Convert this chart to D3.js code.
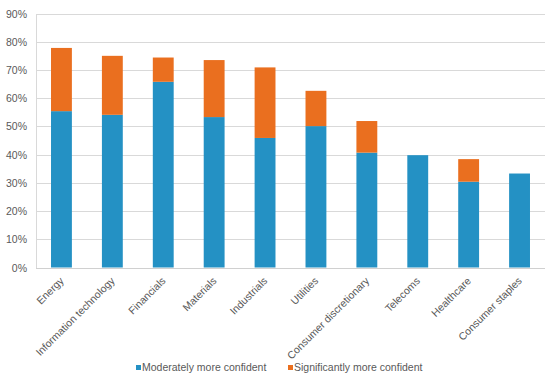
<!DOCTYPE html>
<html>
<head>
<meta charset="utf-8">
<script src="https://cdn.jsdelivr.net/npm/d3@7"></script>
<style>
  body { margin: 0; background: #fff; }
  text { font-family: "Liberation Sans", Arial, sans-serif; fill: #595959; }
</style>
</head>
<body>
<svg id="chart" width="550" height="386"></svg>
<script>
// Sectors and the two confidence shares (percent)
var sectors = ["Energy", "Information technology", "Financials", "Materials", "Industrials",
    "Utilities", "Consumer discretionary", "Telecoms", "Healthcare", "Consumer staples"];
var moderately = [55.4, 54.1, 65.8, 53.3, 45.9, 50.1, 40.7, 39.8, 30.4, 33.3];
var significantly = [22.4, 20.9, 8.6, 20.2, 25.0, 12.5, 11.2, 0, 8.0, 0];
var seriesNames = ["Moderately more confident", "Significantly more confident"];
var seriesColors = ["#2491c4", "#ea6f1f"];
var yTicks = [0, 10, 20, 30, 40, 50, 60, 70, 80, 90];

var svg = d3.select("#chart");
var plotLeft = 36, plotRight = 545, plotTop = 13.5, plotBottom = 267.5;

var x = d3.scaleBand()
    .domain(sectors)
    .range([plotLeft, plotRight])
    .paddingInner(0.59)
    .paddingOuter(0.295);

var y = d3.scaleLinear()
    .domain([0, 90])
    .range([plotBottom, plotTop]);

// gridlines
svg.append("g")
    .selectAll("line")
    .data(yTicks)
    .enter()
    .append("line")
    .attr("x1", plotLeft)
    .attr("x2", plotRight)
    .attr("y1", function(d) { return Math.round(y(d)) + 0.5; })
    .attr("y2", function(d) { return Math.round(y(d)) + 0.5; })
    .attr("stroke", "#d9d9d9")
    .attr("stroke-width", 1);

// left axis line
svg.append("line")
    .attr("x1", plotLeft + 0.5).attr("x2", plotLeft + 0.5)
    .attr("y1", Math.round(y(90))).attr("y2", Math.round(y(0)) + 1)
    .attr("stroke", "#d9d9d9");

// y tick labels
svg.append("g")
    .selectAll("text")
    .data(yTicks)
    .enter()
    .append("text")
    .attr("x", 27)
    .attr("y", function(d) { return y(d) + 4; })
    .attr("text-anchor", "end")
    .style("font-size", "10.5px")
    .text(function(d) { return d + "%"; });

// stacked bars
var rows = sectors.map(function(s, i) {
    return { sector: s, mod: moderately[i], sig: significantly[i] };
});
var stack = d3.stack().keys(["mod", "sig"])(rows);

svg.append("g")
    .selectAll("g")
    .data(stack)
    .enter()
    .append("g")
    .attr("fill", function(d, i) { return seriesColors[i]; })
    .selectAll("rect")
    .data(function(d) { return d; })
    .enter()
    .append("rect")
    .attr("x", function(d) { return x(d.data.sector); })
    .attr("width", x.bandwidth())
    .attr("y", function(d) { return y(d[1]); })
    .attr("height", function(d) { return y(d[0]) - y(d[1]); });

// baseline above the bars
svg.append("line")
    .attr("x1", plotLeft).attr("x2", plotRight)
    .attr("y1", Math.round(y(0)) + 0.5).attr("y2", Math.round(y(0)) + 0.5)
    .attr("stroke", "#d0d0d0");

// rotated category labels
svg.append("g")
    .selectAll("text")
    .data(sectors)
    .enter()
    .append("text")
    .attr("transform", function(d) {
        var cx = x(d) + x.bandwidth() / 2 + 3;
        return "translate(" + cx + "," + (plotBottom + 14) + ") rotate(-45)";
    })
    .attr("text-anchor", "end")
    .style("font-size", "10.5px")
    .text(function(d) { return d; });

// legend
var legendX = [136, 288];
var legend = svg.append("g")
    .selectAll("g")
    .data(seriesNames)
    .enter()
    .append("g")
    .attr("transform", function(d, i) { return "translate(" + legendX[i] + ",369)"; });
legend.append("rect")
    .attr("x", 0).attr("y", -4)
    .attr("width", 5).attr("height", 5)
    .attr("fill", function(d, i) { return seriesColors[i]; });
legend.append("text")
    .attr("x", 6).attr("y", 2)
    .style("font-size", "10.5px")
    .text(function(d) { return d; });
</script>
</body>
</html>
